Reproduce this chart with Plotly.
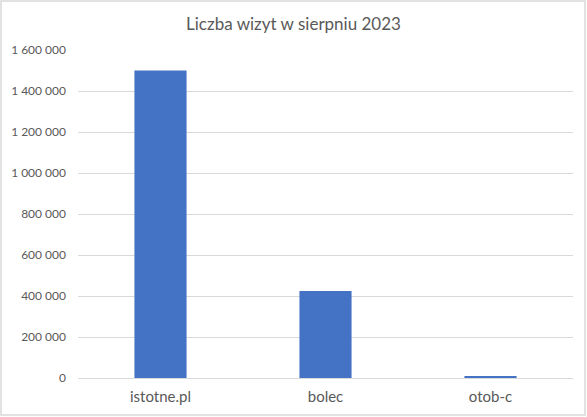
import plotly.graph_objects as go

categories = ["istotne.pl", "bolec", "otob-c"]
visits = [1500000, 425000, 8000]
tick_values = [0, 200000, 400000, 600000, 800000, 1000000, 1200000, 1400000, 1600000]
title_text = "Liczba wizyt w sierpniu 2023"

W, H = 587, 417
L, R, T, B = 78, 14, 50, 39
pw, ph = W - L - R, H - T - B

fig = go.Figure(go.Bar(
    x=categories, y=visits,
    marker=dict(color="#4472c4", line=dict(width=0)),
    width=0.316,
    hoverinfo="x+y",
))

fig.update_layout(
    width=W, height=H,
    margin=dict(l=L, r=R, t=T, b=B, pad=0),
    paper_bgcolor="white", plot_bgcolor="white",
    separators=". ",
    font=dict(family="Lato, Carlito, sans-serif", size=12, color="#595959"),
    title=dict(text=title_text, x=0.5, xanchor="center", y=1 - 24 / H, yanchor="middle",
               font=dict(size=17, color="#595959")),
    showlegend=False,
    xaxis=dict(showgrid=False, showline=False, ticks="", zeroline=False,
               ticklabelstandoff=8,
               tickfont=dict(size=15, color="#595959")),
    yaxis=dict(range=[0, 1600000], tickvals=tick_values, tickformat=",d",
               showgrid=True, gridcolor="#d9d9d9", gridwidth=1,
               zeroline=True, zerolinecolor="#d9d9d9", zerolinewidth=1,
               showline=False, ticks="", ticklabelstandoff=11,
               tickfont=dict(size=12, color="#595959")),
    shapes=[dict(type="rect", xref="paper", yref="paper",
                 x0=(1 - L) / pw, x1=(W - 2 - L) / pw,
                 y0=-(B - 2) / ph, y1=1 + (T - 1) / ph,
                 line=dict(color="#d9d9d9", width=1.5), layer="below")],
)

fig.write_html("out.html", config={"displayModeBar": False},
               post_script="document.body.style.margin='0';document.body.style.overflow='hidden';")
